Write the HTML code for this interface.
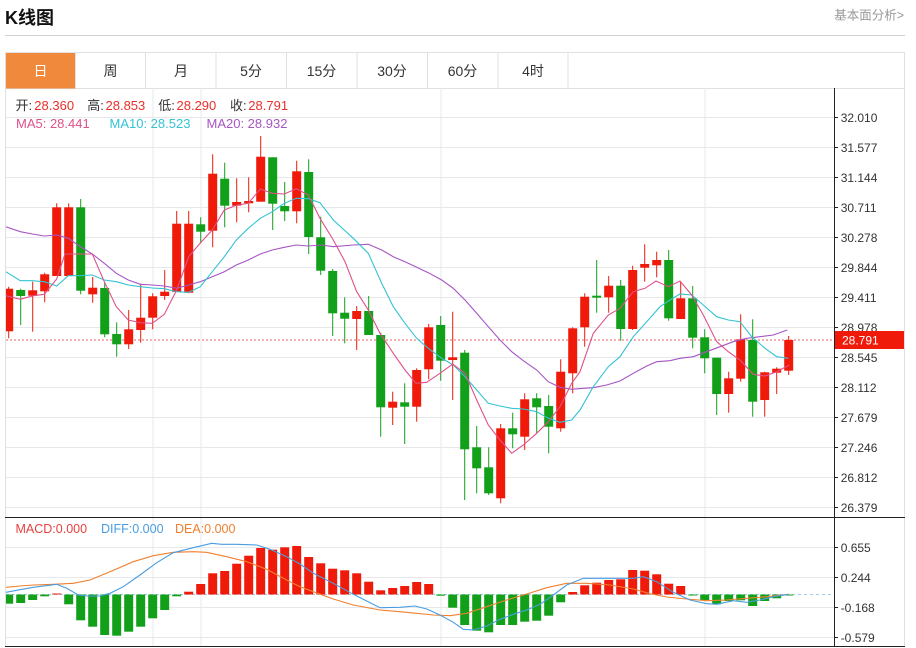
<!DOCTYPE html>
<html><head><meta charset="utf-8"><style>
html,body{margin:0;padding:0;background:#fff;}
body{width:916px;height:648px;overflow:hidden;}
svg{display:block;font-family:"Liberation Sans","Noto Sans CJK SC",sans-serif;}
.r{fill:#f01a0a}.g{fill:#12a01a}
</style></head><body>
<svg width="916" height="648" viewBox="0 0 916 648" xmlns="http://www.w3.org/2000/svg">
<defs><clipPath id="cp"><rect x="6" y="89" width="828" height="557"/></clipPath></defs>
<!-- header -->
<text x="5" y="24" font-size="18" font-weight="bold" fill="#111">K线图</text>
<text x="904" y="19.5" font-size="12.5" fill="#999" text-anchor="end">基本面分析&gt;</text>
<line x1="5" y1="35.5" x2="905" y2="35.5" stroke="#d0d0d0"/>
<!-- tabs -->
<rect x="5.5" y="52.5" width="899" height="36" fill="none" stroke="#e0e0e0"/>
<rect x="6" y="53" width="69.5" height="35.5" fill="#f0893b"/>
<g stroke="#e0e0e0">
<line x1="75.5" y1="53" x2="75.5" y2="88"/><line x1="145.5" y1="53" x2="145.5" y2="88"/>
<line x1="216" y1="53" x2="216" y2="88"/><line x1="286.5" y1="53" x2="286.5" y2="88"/>
<line x1="357" y1="53" x2="357" y2="88"/><line x1="427.5" y1="53" x2="427.5" y2="88"/>
<line x1="498" y1="53" x2="498" y2="88"/><line x1="568" y1="53" x2="568" y2="88"/>
</g>
<g font-size="14" text-anchor="middle" fill="#333">
<text x="40.5" y="76" fill="#fff">日</text><text x="110.5" y="76">周</text><text x="181" y="76">月</text>
<text x="251" y="76">5分</text><text x="321.5" y="76">15分</text><text x="392" y="76">30分</text>
<text x="462.5" y="76">60分</text><text x="533" y="76">4时</text>
</g>
<!-- frame -->
<line x1="5.5" y1="88" x2="5.5" y2="647" stroke="#e0e0e0"/>
<line x1="904.5" y1="88" x2="904.5" y2="647" stroke="#e0e0e0"/>
<!-- grid -->
<g stroke="#e6e8eb">
<line x1="6" y1="117.5" x2="834" y2="117.5"/><line x1="6" y1="147.5" x2="834" y2="147.5"/>
<line x1="6" y1="177.5" x2="834" y2="177.5"/><line x1="6" y1="207.5" x2="834" y2="207.5"/>
<line x1="6" y1="237.5" x2="834" y2="237.5"/><line x1="6" y1="267.5" x2="834" y2="267.5"/>
<line x1="6" y1="297.5" x2="834" y2="297.5"/><line x1="6" y1="327.5" x2="834" y2="327.5"/>
<line x1="6" y1="357.5" x2="834" y2="357.5"/><line x1="6" y1="387.5" x2="834" y2="387.5"/>
<line x1="6" y1="417.5" x2="834" y2="417.5"/><line x1="6" y1="447.5" x2="834" y2="447.5"/>
<line x1="6" y1="477.5" x2="834" y2="477.5"/><line x1="6" y1="507.5" x2="834" y2="507.5"/>
<line x1="6" y1="547.5" x2="834" y2="547.5"/><line x1="6" y1="577.5" x2="834" y2="577.5"/>
<line x1="6" y1="607.5" x2="834" y2="607.5"/><line x1="6" y1="637.5" x2="834" y2="637.5"/>
<line x1="153" y1="88" x2="153" y2="647"/><line x1="201" y1="88" x2="201" y2="647"/>
<line x1="441" y1="88" x2="441" y2="647"/><line x1="705" y1="88" x2="705" y2="647"/>
</g>
<!-- legend -->
<g font-size="13">
<text y="110"><tspan x="15.5" fill="#333">开:</tspan><tspan x="34.3" fill="#e8302a">28.360</tspan><tspan x="87.3" fill="#333">高:</tspan><tspan x="105.5" fill="#e8302a">28.853</tspan><tspan x="158.3" fill="#333">低:</tspan><tspan x="176.5" fill="#e8302a">28.290</tspan><tspan x="230" fill="#333">收:</tspan><tspan x="248.3" fill="#e8302a">28.791</tspan></text>
<text y="128"><tspan x="16" fill="#e0508a">MA5: 28.441</tspan><tspan x="109.5" fill="#33c3d3">MA10: 28.523</tspan><tspan x="206.5" fill="#a655c4">MA20: 28.932</tspan></text>
</g>
<g clip-path="url(#cp)">
<!-- last price dashed -->
<line x1="6" y1="340" x2="834" y2="340" stroke="#e86060" stroke-dasharray="2,2"/>
<!-- candles -->
<g>
<rect class="r" x="8.2" y="286.7" width="1" height="51.6"/><rect class="r" x="4.2" y="288.7" width="9" height="42.6"/>
<rect class="g" x="20.2" y="288.7" width="1" height="36.3"/><rect class="g" x="16.2" y="290" width="9" height="6"/>
<rect class="r" x="32.2" y="281.7" width="1" height="50"/><rect class="r" x="28.2" y="290.3" width="9" height="5.4"/>
<rect class="r" x="44.2" y="272.7" width="1" height="29.6"/><rect class="r" x="40.2" y="274.3" width="9" height="17"/>
<rect class="r" x="56.2" y="203.3" width="1" height="72.7"/><rect class="r" x="52.2" y="207.3" width="9" height="68.7"/>
<rect class="r" x="68.2" y="203.3" width="1" height="72.7"/><rect class="r" x="64.2" y="207.3" width="9" height="68.7"/>
<rect class="g" x="80.2" y="199" width="1" height="95.3"/><rect class="g" x="76.2" y="207.3" width="9" height="83.4"/>
<rect class="r" x="92.2" y="277" width="1" height="25.7"/><rect class="r" x="88.2" y="287.7" width="9" height="6.6"/>
<rect class="g" x="104.2" y="281.7" width="1" height="55.6"/><rect class="g" x="100.2" y="288" width="9" height="46.3"/>
<rect class="g" x="116.2" y="322.3" width="1" height="34.4"/><rect class="g" x="112.2" y="334" width="9" height="10.3"/>
<rect class="r" x="128.2" y="310" width="1" height="39"/><rect class="r" x="124.2" y="329.3" width="9" height="15"/>
<rect class="r" x="140.2" y="283.7" width="1" height="59"/><rect class="r" x="136.2" y="317.7" width="9" height="12.3"/>
<rect class="r" x="152.2" y="293.3" width="1" height="36"/><rect class="r" x="148.2" y="296.3" width="9" height="21.4"/>
<rect class="r" x="164.2" y="270" width="1" height="30"/><rect class="r" x="160.2" y="291.7" width="9" height="4.3"/>
<rect class="r" x="176.2" y="211" width="1" height="81"/><rect class="r" x="172.2" y="223.7" width="9" height="68.3"/>
<rect class="r" x="188.2" y="211" width="1" height="82.3"/><rect class="r" x="184.2" y="223.7" width="9" height="69"/>
<rect class="g" x="200.2" y="217.3" width="1" height="26"/><rect class="g" x="196.2" y="224.3" width="9" height="7.4"/>
<rect class="r" x="212.2" y="154.3" width="1" height="93"/><rect class="r" x="208.2" y="173.7" width="9" height="57"/>
<rect class="g" x="224.2" y="162.7" width="1" height="64.6"/><rect class="g" x="220.2" y="178.7" width="9" height="27"/>
<rect class="r" x="236.2" y="178.3" width="1" height="44"/><rect class="r" x="232.2" y="202" width="9" height="3.7"/>
<rect class="r" x="248.2" y="177.3" width="1" height="35"/><rect class="r" x="244.2" y="201" width="9" height="2.3"/>
<rect class="r" x="260.2" y="136" width="1" height="65.7"/><rect class="r" x="256.2" y="156.7" width="9" height="45"/>
<rect class="g" x="272.2" y="157.3" width="1" height="72.7"/><rect class="g" x="268.2" y="157.3" width="9" height="46.4"/>
<rect class="g" x="284.2" y="182" width="1" height="39"/><rect class="g" x="280.2" y="206" width="9" height="5.3"/>
<rect class="r" x="296.2" y="160.7" width="1" height="62.6"/><rect class="r" x="292.2" y="171.3" width="9" height="40"/>
<rect class="g" x="308.2" y="159.3" width="1" height="94.7"/><rect class="g" x="304.2" y="172" width="9" height="65"/>
<rect class="g" x="320.2" y="216.7" width="1" height="58.3"/><rect class="g" x="316.2" y="237.3" width="9" height="33.4"/>
<rect class="g" x="332.2" y="269" width="1" height="67"/><rect class="g" x="328.2" y="271" width="9" height="42.3"/>
<rect class="g" x="344.2" y="297.3" width="1" height="46"/><rect class="g" x="340.2" y="312.7" width="9" height="6"/>
<rect class="r" x="356.2" y="306" width="1" height="44"/><rect class="r" x="352.2" y="311" width="9" height="8"/>
<rect class="g" x="368.2" y="296" width="1" height="39"/><rect class="g" x="364.2" y="311" width="9" height="24"/>
<rect class="g" x="380.2" y="332.7" width="1" height="104"/><rect class="g" x="376.2" y="335" width="9" height="72.3"/>
<rect class="r" x="392.2" y="391.7" width="1" height="33.3"/><rect class="r" x="388.2" y="401.7" width="9" height="6"/>
<rect class="g" x="404.2" y="383.3" width="1" height="60.7"/><rect class="g" x="400.2" y="402.3" width="9" height="4.4"/>
<rect class="r" x="416.2" y="368.3" width="1" height="53.4"/><rect class="r" x="412.2" y="370" width="9" height="36.7"/>
<rect class="r" x="428.2" y="324" width="1" height="55.3"/><rect class="r" x="424.2" y="327.3" width="9" height="42"/>
<rect class="g" x="440.2" y="316" width="1" height="64.7"/><rect class="g" x="436.2" y="325" width="9" height="35.7"/>
<rect class="r" x="452.2" y="311.7" width="1" height="88.3"/><rect class="r" x="448.2" y="357.3" width="9" height="2.7"/>
<rect class="g" x="464.2" y="350" width="1" height="150"/><rect class="g" x="460.2" y="352.7" width="9" height="96.6"/>
<rect class="g" x="476.2" y="426" width="1" height="67.3"/><rect class="g" x="472.2" y="447.3" width="9" height="21"/>
<rect class="g" x="488.2" y="447.3" width="1" height="47.7"/><rect class="g" x="484.2" y="467.3" width="9" height="26"/>
<rect class="r" x="500.2" y="424" width="1" height="79.3"/><rect class="r" x="496.2" y="428.3" width="9" height="70"/>
<rect class="g" x="512.2" y="412.7" width="1" height="35.6"/><rect class="g" x="508.2" y="428.3" width="9" height="6"/>
<rect class="r" x="524.2" y="393.3" width="1" height="56.7"/><rect class="r" x="520.2" y="399.3" width="9" height="37.4"/>
<rect class="g" x="536.2" y="393.3" width="1" height="40"/><rect class="g" x="532.2" y="398.3" width="9" height="9"/>
<rect class="g" x="548.2" y="395" width="1" height="58.3"/><rect class="g" x="544.2" y="406" width="9" height="20.7"/>
<rect class="r" x="560.2" y="359.3" width="1" height="72.4"/><rect class="r" x="556.2" y="371.7" width="9" height="56.6"/>
<rect class="r" x="572.2" y="327.3" width="1" height="66"/><rect class="r" x="568.2" y="328.3" width="9" height="45"/>
<rect class="r" x="584.2" y="293.3" width="1" height="53.4"/><rect class="r" x="580.2" y="296.7" width="9" height="30.6"/>
<rect class="g" x="596.2" y="260" width="1" height="52.7"/><rect class="g" x="592.2" y="295.7" width="9" height="2"/>
<rect class="r" x="608.2" y="276" width="1" height="36.7"/><rect class="r" x="604.2" y="285.7" width="9" height="11.6"/>
<rect class="g" x="620.2" y="280" width="1" height="60.7"/><rect class="g" x="616.2" y="285.7" width="9" height="43.3"/>
<rect class="r" x="632.2" y="265.7" width="1" height="64.3"/><rect class="r" x="628.2" y="270" width="9" height="59"/>
<rect class="r" x="644.2" y="244.3" width="1" height="37.4"/><rect class="r" x="640.2" y="264" width="9" height="3.7"/>
<rect class="r" x="656.2" y="251.7" width="1" height="25.6"/><rect class="r" x="652.2" y="260" width="9" height="5.3"/>
<rect class="g" x="668.2" y="250" width="1" height="70.7"/><rect class="g" x="664.2" y="260" width="9" height="58.3"/>
<rect class="r" x="680.2" y="281.7" width="1" height="37.3"/><rect class="r" x="676.2" y="298.3" width="9" height="20.7"/>
<rect class="g" x="692.2" y="286" width="1" height="62.3"/><rect class="g" x="688.2" y="298.3" width="9" height="39.4"/>
<rect class="g" x="704.2" y="329.3" width="1" height="44"/><rect class="g" x="700.2" y="337.3" width="9" height="21"/>
<rect class="g" x="716.2" y="357.7" width="1" height="57.3"/><rect class="g" x="712.2" y="357.7" width="9" height="36.3"/>
<rect class="r" x="728.2" y="371.7" width="1" height="41"/><rect class="r" x="724.2" y="378.3" width="9" height="15.7"/>
<rect class="r" x="740.2" y="314.3" width="1" height="67.4"/><rect class="r" x="736.2" y="339.3" width="9" height="39.4"/>
<rect class="g" x="752.2" y="319.3" width="1" height="97.4"/><rect class="g" x="748.2" y="340" width="9" height="61.7"/>
<rect class="r" x="764.2" y="371.7" width="1" height="45"/><rect class="r" x="760.2" y="372.3" width="9" height="27.7"/>
<rect class="r" x="776.2" y="367.3" width="1" height="26.7"/><rect class="r" x="772.2" y="368.7" width="9" height="4"/>
<rect class="r" x="788.2" y="336" width="1" height="39"/><rect class="r" x="784.2" y="340" width="9" height="30.7"/>
</g>
<!-- MA lines -->
<polyline fill="none" stroke="#a655c4" stroke-width="1.1" points="5.7,226.7 20.3,231.7 32.3,234 44.3,236 56.7,235 68.3,238.3 80.3,246.7 92.3,254 104.3,263.3 116.3,273.3 128.3,280 140.3,284.3 152.3,285 164.3,286 176.7,288.3 188.7,285 200.3,281.7 212.3,276.7 224.3,271.7 236.3,265 248.3,260 260.3,254 272.3,250 284.3,247.3 296.3,245 308.3,246 321.7,245 333.3,246.7 353.3,245 368.3,244.3 381.7,250 393.3,256.7 405,261.7 416.7,267.3 428.3,272.7 441.7,280 453.3,288.3 465,300 476.7,313.3 488.3,326.7 500,340 511.7,351.7 523.3,360.7 536.7,370 548.3,381.7 560,387.3 571.7,389.3 583.3,388.3 593.3,387.7 606.7,385 620,381 633.3,373.3 646.7,366 656.7,361.7 670,360.7 680,358.3 693.3,356.7 706.7,351.7 720,346.7 733.3,341.7 746.7,338.3 760,336.7 773.3,335 787.3,330"/>
<polyline fill="none" stroke="#33c3d3" stroke-width="1.1" points="5.7,271.7 20.3,280.7 32.3,280.7 44.3,281.7 56.7,286 68.3,275.7 80.3,275.7 92.3,275 104.3,280 116.3,281.7 128.3,285 140.3,286.7 152.3,288 164.3,288.7 176.7,291.7 188.7,292.3 200.3,286.7 212.3,271.7 224.3,256.7 236.3,240 248.3,228.3 260.3,218.3 272.3,211.7 284.3,203.3 296.3,198.3 308.3,198.7 320,202.7 333.3,220 353.3,238.3 368.3,253.3 381.7,283.3 393.3,306.7 405,323.3 416.7,338.3 428.3,348.3 441.7,358.3 453.3,365 465,376.7 476.7,390 488.3,403.3 500,406 511.7,408.3 523.3,409 536.7,411.7 548.3,418.3 560,422.3 571.7,420 580,410 593.3,386.7 608.3,366.7 620,356.7 633.3,336.7 646.7,321.7 660,306.7 670,300 680,294 691.7,295 703.3,305 716.7,316.7 728.3,320 740,321.7 751.7,336.7 765,348.3 776.7,356.7 788.3,358.3"/>
<polyline fill="none" stroke="#e0508a" stroke-width="1.1" points="5.7,295.7 20.3,299.3 33.3,295.7 44.3,294.3 56.7,279 65,254 80.3,254 92.3,254 104.3,281.7 116.3,306.7 128.3,320 140.3,322.7 152.3,323.3 164.3,314.3 176.7,290 188.7,256.7 200.3,243 212.3,230 224.3,210 236.3,205.3 248.3,203.3 260.3,189 272.3,193.3 284.3,194 296.3,188.7 308.3,195 320,218.3 333.3,240 345,261.7 356.7,291.7 368.3,310 380,333.3 393.3,353.3 405,370 416,383.3 426.7,382.3 440,373.3 452.7,364 465,373.3 476.7,400 488.3,425 500,440 511.7,453.3 523.3,445 536.7,433.3 548.3,421.7 560,406.7 571.7,383.3 580,371.7 593.3,333.3 608.3,315 620,308.3 633.3,291.7 645,288.3 656,281 668.3,286.7 680,281 691.7,295 703.3,315 716.7,341.7 728.3,351.7 740,360 753.3,374.3 765,376 776.7,371.7 789.3,365"/>
<!-- MACD zero -->
<line x1="6" y1="594.5" x2="834" y2="594.5" stroke="#9fd0ea" stroke-dasharray="3,3"/>
<!-- MACD bars -->
<g>
<rect class="g" x="4.2" y="594.5" width="9" height="9.2"/>
<rect class="g" x="16.2" y="594.5" width="9" height="8.5"/>
<rect class="g" x="28.2" y="594.5" width="9" height="5.5"/>
<rect class="g" x="40.2" y="594.5" width="9" height="1.8"/>
<rect class="r" x="52.2" y="593.5" width="9" height="1"/>
<rect class="g" x="64.2" y="594.5" width="9" height="9.8"/>
<rect class="g" x="76.2" y="594.5" width="9" height="25.8"/>
<rect class="g" x="88.2" y="594.5" width="9" height="32.2"/>
<rect class="g" x="100.2" y="594.5" width="9" height="40.5"/>
<rect class="g" x="112.2" y="594.5" width="9" height="41.2"/>
<rect class="g" x="124.2" y="594.5" width="9" height="37.2"/>
<rect class="g" x="136.2" y="594.5" width="9" height="32.2"/>
<rect class="g" x="148.2" y="594.5" width="9" height="23.8"/>
<rect class="g" x="160.2" y="594.5" width="9" height="15.5"/>
<rect class="g" x="172.2" y="594.5" width="9" height="1.8"/>
<rect class="r" x="184.2" y="591.7" width="9" height="2.8"/>
<rect class="r" x="196.2" y="584" width="9" height="10.5"/>
<rect class="r" x="208.2" y="573.3" width="9" height="21.2"/>
<rect class="r" x="220.2" y="571" width="9" height="23.5"/>
<rect class="r" x="232.2" y="563.7" width="9" height="30.8"/>
<rect class="r" x="244.2" y="555.7" width="9" height="38.8"/>
<rect class="r" x="256.2" y="548" width="9" height="46.5"/>
<rect class="r" x="268.2" y="549.7" width="9" height="44.8"/>
<rect class="r" x="280.2" y="547.3" width="9" height="47.2"/>
<rect class="r" x="292.2" y="546" width="9" height="48.5"/>
<rect class="r" x="304.2" y="557" width="9" height="37.5"/>
<rect class="r" x="316.2" y="563.3" width="9" height="31.2"/>
<rect class="r" x="328.2" y="568.7" width="9" height="25.8"/>
<rect class="r" x="340.2" y="570.3" width="9" height="24.2"/>
<rect class="r" x="352.2" y="573.3" width="9" height="21.2"/>
<rect class="r" x="364.2" y="581.7" width="9" height="12.8"/>
<rect class="r" x="376.2" y="590.3" width="9" height="4.2"/>
<rect class="r" x="388.2" y="588" width="9" height="6.5"/>
<rect class="r" x="400.2" y="586" width="9" height="8.5"/>
<rect class="r" x="412.2" y="582" width="9" height="12.5"/>
<rect class="r" x="424.2" y="584" width="9" height="10.5"/>
<rect class="g" x="436.2" y="594.5" width="9" height="1.2"/>
<rect class="g" x="448.2" y="594.5" width="9" height="13.2"/>
<rect class="g" x="460.2" y="594.5" width="9" height="30.5"/>
<rect class="g" x="472.2" y="594.5" width="9" height="36.2"/>
<rect class="g" x="484.2" y="594.5" width="9" height="37.8"/>
<rect class="g" x="496.2" y="594.5" width="9" height="30.5"/>
<rect class="g" x="508.2" y="594.5" width="9" height="30.5"/>
<rect class="g" x="520.2" y="594.5" width="9" height="27.2"/>
<rect class="g" x="532.2" y="594.5" width="9" height="26.2"/>
<rect class="g" x="544.2" y="594.5" width="9" height="21.2"/>
<rect class="g" x="556.2" y="594.5" width="9" height="7.8"/>
<rect class="r" x="568.2" y="592" width="9" height="2.5"/>
<rect class="r" x="580.2" y="585.3" width="9" height="9.2"/>
<rect class="r" x="592.2" y="582.7" width="9" height="11.8"/>
<rect class="r" x="604.2" y="580" width="9" height="14.5"/>
<rect class="r" x="616.2" y="579.3" width="9" height="15.2"/>
<rect class="r" x="628.2" y="570" width="9" height="24.5"/>
<rect class="r" x="640.2" y="570.7" width="9" height="23.8"/>
<rect class="r" x="652.2" y="574.3" width="9" height="20.2"/>
<rect class="r" x="664.2" y="583.7" width="9" height="10.8"/>
<rect class="r" x="676.2" y="586" width="9" height="8.5"/>
<rect class="g" x="688.2" y="594.5" width="9" height="1"/>
<rect class="g" x="700.2" y="594.5" width="9" height="5.5"/>
<rect class="g" x="712.2" y="594.5" width="9" height="9.8"/>
<rect class="g" x="724.2" y="594.5" width="9" height="6.5"/>
<rect class="g" x="736.2" y="594.5" width="9" height="5.8"/>
<rect class="g" x="748.2" y="594.5" width="9" height="11.5"/>
<rect class="g" x="760.2" y="594.5" width="9" height="6.5"/>
<rect class="g" x="772.2" y="594.5" width="9" height="3.8"/>
<rect class="g" x="784.2" y="594.5" width="9" height="1"/>
</g>
<polyline fill="none" stroke="#f08030" stroke-width="1.1" points="6,587.3 20,586 33.3,585 53.3,584.3 73.3,583.3 90,580 110,571.7 133.3,561.7 153.3,555.7 173.3,552.3 193.3,551.7 206.7,552.3 226.7,556.7 246.7,561.7 266.7,569.3 286.7,580 300,586.7 313.3,591.7 333.3,599 353.3,605 380,610 406.7,612.3 433.3,615 450,615.7 466.7,613.3 486.7,606.7 506.7,600 526.7,594 546.7,587.7 566.7,583.3 586.7,583.3 610,585 633.3,589 650,593.7 666.7,597 686.7,599 706.7,600.7 726.7,600 746.7,598.3 766.7,596.7 788.7,594.3"/>
<polyline fill="none" stroke="#4a9de0" stroke-width="1.1" points="6,592.3 20,589.7 33.3,587.3 56.7,584.3 66.7,588.3 78.3,595 88.3,596 100,596 110,593.3 123.3,586.7 140,575 156.7,562.7 173.3,552.7 193.3,547.7 211.7,543.3 221.7,544.3 236.7,544.3 256.7,545 270,549.3 286.7,556.7 300,564 313.3,573.3 333.3,583.3 353.3,594.3 366.7,601 380,607.7 400,607.3 415,606 426.7,609 440,615 453.3,622.3 463.3,629.3 473.3,630 486.7,626 500,619.3 513.3,614.3 526.7,610 540,604.3 553.3,595 566.7,585 583.3,578.3 610,578.3 633.3,578.3 643.3,576.7 656.7,581.7 673.3,592.3 690,600 706.7,603.7 716.7,604.3 733.3,600.7 746.7,602.3 760,600 773.3,596.7 788.7,594.3"/>
</g>
<!-- MACD legend -->
<g font-size="12.5">
<text x="15.5" y="533" fill="#e84040">MACD:0.000</text>
<text x="101" y="533" fill="#4a9de0">DIFF:0.000</text>
<text x="175" y="533" fill="#f08030">DEA:0.000</text>
</g>
<!-- dark separators & axis -->
<line x1="5" y1="517.5" x2="905" y2="517.5" stroke="#222"/>
<line x1="5" y1="646.5" x2="905" y2="646.5" stroke="#222"/>
<line x1="834.5" y1="88" x2="834.5" y2="647" stroke="#222"/>
<!-- ticks -->
<g stroke="#222">
<line x1="834" y1="117.5" x2="838" y2="117.5"/><line x1="834" y1="147.5" x2="838" y2="147.5"/>
<line x1="834" y1="177.5" x2="838" y2="177.5"/><line x1="834" y1="207.5" x2="838" y2="207.5"/>
<line x1="834" y1="237.5" x2="838" y2="237.5"/><line x1="834" y1="267.5" x2="838" y2="267.5"/>
<line x1="834" y1="297.5" x2="838" y2="297.5"/><line x1="834" y1="327.5" x2="838" y2="327.5"/>
<line x1="834" y1="357.5" x2="838" y2="357.5"/><line x1="834" y1="387.5" x2="838" y2="387.5"/>
<line x1="834" y1="417.5" x2="838" y2="417.5"/><line x1="834" y1="447.5" x2="838" y2="447.5"/>
<line x1="834" y1="477.5" x2="838" y2="477.5"/><line x1="834" y1="507.5" x2="838" y2="507.5"/>
<line x1="834" y1="547.5" x2="838" y2="547.5"/><line x1="834" y1="577.5" x2="838" y2="577.5"/>
<line x1="834" y1="607.5" x2="838" y2="607.5"/><line x1="834" y1="637.5" x2="838" y2="637.5"/>
</g>
<g font-size="12" fill="#333">
<text x="840.7" y="121.8">32.010</text><text x="840.7" y="151.8">31.577</text>
<text x="840.7" y="181.8">31.144</text><text x="840.7" y="211.8">30.711</text>
<text x="840.7" y="241.8">30.278</text><text x="840.7" y="271.8">29.844</text>
<text x="840.7" y="301.8">29.411</text><text x="840.7" y="331.8">28.978</text>
<text x="840.7" y="361.8">28.545</text><text x="840.7" y="391.8">28.112</text>
<text x="840.7" y="421.8">27.679</text><text x="840.7" y="451.8">27.246</text>
<text x="840.7" y="481.8">26.812</text><text x="840.7" y="511.8">26.379</text>
<text x="840.7" y="551.8">0.655</text><text x="840.7" y="581.8">0.244</text>
<text x="840.7" y="611.8">-0.168</text><text x="840.7" y="641.8">-0.579</text>
</g>
<rect x="835" y="331" width="69" height="18" fill="#f01a0a"/>
<text x="842" y="344.5" font-size="12" fill="#fff">28.791</text>
</svg>
</body></html>
